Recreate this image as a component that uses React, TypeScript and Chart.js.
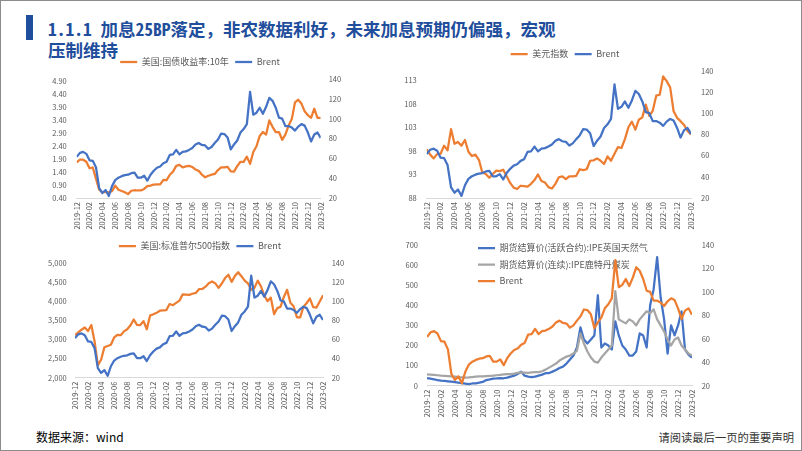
import React, { useEffect, useRef } from 'react';
import { Chart, registerables } from 'chart.js';

Chart.register(...registerables);

const FONT = "'Noto Sans CJK SC', 'Noto Sans', sans-serif";
Chart.defaults.font.family = FONT;
Chart.defaults.color = '#595959';

const ORANGE = '#ED7D31';
const BLUE = '#4472C4';
const GRAY = '#A5A5A5';

// x categories: half-month steps from 2019-12 to 2023-02; tick labels every 2 months
const xTickLabels = ['2019-12', '2020-02', '2020-04', '2020-06', '2020-08', '2020-10', '2020-12', '2021-02', '2021-04', '2021-06', '2021-08', '2021-10', '2021-12', '2022-02', '2022-04', '2022-06', '2022-08', '2022-10', '2022-12', '2023-02'];

const brent = [61.5, 65.5, 66.5, 64.5, 58, 57.5, 51, 30, 25, 28, 22, 32, 38, 40.5, 42, 43, 43.5, 45, 45.5, 40.5, 40.5, 42.5, 37.5, 43.5, 47.5, 50.5, 51.8, 55, 56.5, 63.5, 64, 68.5, 64, 66.5, 67, 68.5, 70.5, 74, 75.5, 73.5, 73, 69.5, 71.5, 75.5, 79, 85, 84.5, 81, 69, 74, 78, 86, 89.5, 94.5, 127, 104, 106, 111, 105, 112, 121, 118, 111, 101, 100, 92.5, 92.5, 91, 88, 92, 94.5, 93, 86, 77, 84, 86, 80.5];
const ust10y = [1.78, 1.88, 1.88, 1.80, 1.55, 1.58, 1.15, 0.72, 0.62, 0.64, 0.62, 0.66, 0.88, 0.72, 0.67, 0.62, 0.55, 0.68, 0.70, 0.69, 0.69, 0.75, 0.86, 0.88, 0.92, 0.93, 0.93, 1.10, 1.09, 1.30, 1.42, 1.64, 1.68, 1.58, 1.62, 1.64, 1.60, 1.50, 1.45, 1.30, 1.20, 1.26, 1.30, 1.33, 1.48, 1.58, 1.58, 1.60, 1.43, 1.42, 1.63, 1.80, 1.80, 2.00, 1.72, 2.18, 2.40, 2.80, 2.95, 2.85, 3.40, 3.15, 2.95, 2.95, 2.65, 2.85, 3.20, 3.45, 4.10, 4.20, 4.05, 3.75, 3.60, 3.50, 3.85, 3.50, 3.50];
const dxy = [98.3, 97.2, 96.4, 97.3, 97.4, 99.1, 98.1, 102.6, 99.5, 99.9, 99.1, 100.3, 97.8, 96.9, 97.2, 96.1, 93.4, 93.1, 92.3, 93.1, 93.8, 93.7, 94.0, 92.6, 91.2, 90.2, 89.9, 90.6, 90.5, 90.4, 91.0, 91.8, 93.0, 91.6, 91.3, 90.3, 90.0, 91.0, 92.4, 92.6, 92.0, 92.6, 92.6, 92.7, 94.1, 93.9, 94.1, 95.9, 96.0, 96.4, 95.9, 95.2, 96.8, 95.9, 97.4, 98.8, 98.6, 100.5, 103.0, 104.2, 102.5, 104.6, 105.1, 107.8, 105.4, 106.5, 109.7, 109.9, 113.8, 112.8, 111.5, 106.4, 105.0, 104.3, 103.5, 102.2, 101.5];
const spx = [3113, 3191, 3258, 3316, 3226, 3380, 2954, 2330, 2470, 2800, 2830, 2863, 3055, 3124, 3115, 3215, 3271, 3373, 3526, 3385, 3380, 3483, 3270, 3627, 3662, 3701, 3756, 3768, 3773, 3932, 3901, 3962, 4020, 4185, 4181, 4173, 4202, 4223, 4320, 4327, 4387, 4479, 4524, 4473, 4357, 4471, 4613, 4700, 4513, 4668, 4766, 4662, 4546, 4475, 4306, 4357, 4545, 4392, 4155, 4008, 4101, 3667, 3825, 3863, 4118, 4305, 3966, 3873, 3585, 3583, 3856, 3958, 4076, 3852, 3839, 3999, 4160];
const ukGas = [38, 35, 32, 28, 25, 24, 22, 20, 18, 15, 13, 10, 8, 11, 12, 15, 19, 28, 31, 35, 36, 38, 37, 40, 45, 50, 58, 70, 50, 45, 43, 45, 50, 55, 62, 63, 70, 78, 88, 95, 110, 130, 150, 190, 290, 230, 210, 230, 250, 450, 190, 210, 200, 180, 320, 250, 200, 180, 150, 150, 170, 260, 250, 190, 400, 480, 640, 440, 330, 160, 300, 250, 300, 370, 180, 155, 140];
const rotterdamCoal = [56, 55, 54, 52, 50, 49, 48, 47, 45, 43, 42, 40, 41, 43, 45, 46, 47, 48, 49, 50, 52, 54, 56, 57, 58, 60, 64, 66, 65, 64, 66, 67, 68, 72, 80, 90, 100, 110, 125, 135, 145, 150, 160, 175, 260, 210, 170, 140, 120, 115, 140, 160, 180, 200, 470, 330, 320, 310, 330, 320, 300, 330, 350, 370, 360, 380, 330, 300, 270, 230, 200, 230, 240, 200, 180, 160, 150];

const yieldTicks = [0.4, 0.9, 1.4, 1.9, 2.4, 2.9, 3.4, 3.9, 4.4, 4.9];
const brentTicks = [20, 40, 60, 80, 100, 120, 140];
const dxyTicks = [88, 93, 98, 103, 108, 113];
const spxTicks = [2000, 2500, 3000, 3500, 4000, 4500, 5000];
const energyTicks = [0, 100, 200, 300, 400, 500, 600, 700];

const LAST = (xTickLabels.length - 1) * 4;
const xTickIdx = xTickLabels.map((_, k) => k * 4);

function lineDs(label: string, values: number[], color: string, yAxisID: string, order: number) {
  return {
    label,
    data: values.map((y, i) => ({ x: i, y })),
    yAxisID,
    order,
    borderColor: color,
    backgroundColor: color,
    borderWidth: 2.25,
    pointRadius: 0,
    pointHoverRadius: 0,
    tension: 0,
    borderJoinStyle: 'round',
    fill: false,
  };
}

function yAxis(position: string, min: number, max: number, ticks: number[], fmt: (v: number) => string, width: number, pad: number) {
  return {
    type: 'linear',
    position,
    min,
    max,
    afterBuildTicks: (s: any) => { s.ticks = ticks.map((v) => ({ value: v })); },
    afterFit: (s: any) => { s.width = width; },
    grid: { display: false, drawTicks: false },
    border: { display: false },
    ticks: { padding: pad, font: { size: 7.5 }, color: '#595959', callback: (v: any) => fmt(Number(v)) },
  };
}

function xAxis(height: number) {
  return {
    type: 'linear',
    min: 0,
    max: LAST,
    afterBuildTicks: (s: any) => { s.ticks = xTickIdx.map((v) => ({ value: v })); },
    afterFit: (s: any) => { s.height = height; },
    grid: { display: false, drawTicks: false },
    border: { display: true, color: '#D9D9D9', width: 1 },
    ticks: {
      minRotation: 90,
      maxRotation: 90,
      autoSkip: false,
      padding: 4,
      font: { size: 7.5 },
      color: '#595959',
      callback: (v: any) => xTickLabels[Math.round(Number(v) / 4)] ?? '',
    },
  };
}

function legendGap(extra: number) {
  return {
    id: 'legendGap',
    beforeInit(chart: any) {
      const lg = chart.legend;
      if (!lg) return;
      const fit = lg.fit;
      lg.fit = function () {
        fit.call(this);
        if (this.options.position === 'top') this.height += extra;
      };
    },
  };
}

function insideLegend(dx: number, dy: number) {
  return {
    id: 'insideLegend',
    afterLayout(chart: any) {
      const lg = chart.legend;
      const ca = chart.chartArea;
      if (!lg || !ca) return;
      lg.left = ca.left + dx;
      lg.top = ca.top + dy;
      lg.right = lg.left + lg.width;
      lg.bottom = lg.top + lg.height;
    },
  };
}

type Spec = {
  box: { left: number; top: number; width: number; height: number };
  padTop: number;
  legendExtra: number;
  legendPad: number;
  inside?: { dx: number; dy: number };
  leftW: number;
  rightW: number;
  xH: number;
  lPad: number;
  rPad: number;
  left: { min: number; max: number; ticks: number[]; fmt: (v: number) => string };
  right: { min: number; max: number; ticks: number[]; fmt: (v: number) => string };
  series: { label: string; values: number[]; color: string; axis: string; order: number }[];
};

const fmtInt = (v: number) => String(v);
const fmtThousands = (v: number) => v.toLocaleString('en-US');
const fmt2 = (v: number) => v.toFixed(2);

const specs: Spec[] = [
  {
    box: { left: 30, top: 50, width: 340, height: 183 },
    padTop: 1, legendExtra: 2.5, legendPad: 6.5,
    leftW: 46.7, rightW: 49.3, xH: 35, lPad: 10, rPad: 8,
    left: { min: 0.4, max: 5.0, ticks: yieldTicks, fmt: fmt2 },
    right: { min: 20, max: 140, ticks: brentTicks, fmt: fmtInt },
    series: [
      { label: '美国:国债收益率:10年', values: ust10y, color: ORANGE, axis: 'yL', order: 1 },
      { label: 'Brent', values: brent, color: BLUE, axis: 'yR', order: 0 },
    ],
  },
  {
    box: { left: 400, top: 42, width: 330, height: 190 },
    padTop: 1, legendExtra: 2.2, legendPad: 6.5,
    leftW: 26.7, rightW: 39, xH: 34, lPad: 10, rPad: 10,
    left: { min: 88, max: 115, ticks: dxyTicks, fmt: fmtInt },
    right: { min: 20, max: 140, ticks: brentTicks, fmt: fmtInt },
    series: [
      { label: '美元指数', values: dxy, color: ORANGE, axis: 'yL', order: 1 },
      { label: 'Brent', values: brent, color: BLUE, axis: 'yR', order: 0 },
    ],
  },
  {
    box: { left: 30, top: 234, width: 340, height: 176 },
    padTop: 1, legendExtra: 2.8, legendPad: 6.5,
    leftW: 45, rightW: 47, xH: 32.3, lPad: 8.3, rPad: 8.7,
    left: { min: 2000, max: 5000, ticks: spxTicks, fmt: fmtThousands },
    right: { min: 20, max: 140, ticks: brentTicks, fmt: fmtInt },
    series: [
      { label: '美国:标准普尔500指数', values: spx, color: ORANGE, axis: 'yL', order: 1 },
      { label: 'Brent', values: brent, color: BLUE, axis: 'yR', order: 0 },
    ],
  },
  {
    box: { left: 400, top: 226, width: 330, height: 192 },
    padTop: 19, legendExtra: 0, legendPad: 7.5,
    inside: { dx: 43.5, dy: -9 },
    leftW: 27, rightW: 38, xH: 32.3, lPad: 9, rPad: 9.7,
    left: { min: 0, max: 700, ticks: energyTicks, fmt: fmtInt },
    right: { min: 20, max: 140, ticks: brentTicks, fmt: fmtInt },
    series: [
      { label: '期货结算价(活跃合约):IPE英国天然气', values: ukGas, color: BLUE, axis: 'yL', order: 2 },
      { label: '期货结算价(连续):IPE鹿特丹煤炭', values: rotterdamCoal, color: GRAY, axis: 'yL', order: 1 },
      { label: 'Brent', values: brent, color: ORANGE, axis: 'yR', order: 0 },
    ],
  },
];

function buildConfig(s: Spec): any {
  const plugins: any[] = [legendGap(s.legendExtra)];
  if (s.inside) plugins.push(insideLegend(s.inside.dx, s.inside.dy));
  return {
    type: 'line',
    data: { datasets: s.series.map((d) => lineDs(d.label, d.values, d.color, d.axis, d.order)) },
    options: {
      responsive: false,
      maintainAspectRatio: false,
      animation: false,
      events: [],
      layout: { padding: { top: s.padTop, left: 0, right: 0, bottom: 0 } },
      plugins: {
        tooltip: { enabled: false },
        legend: {
          position: s.inside ? 'chartArea' : 'top',
          align: s.inside ? 'start' : 'center',
          labels: {
            usePointStyle: true,
            pointStyle: 'line',
            pointStyleWidth: 17,
            boxHeight: 9,
            font: { size: 9, family: FONT },
            color: '#595959',
            padding: s.legendPad,
            sort: (a: any, b: any) => a.datasetIndex - b.datasetIndex,
          },
        },
      },
      scales: {
        x: xAxis(s.xH),
        yL: yAxis('left', s.left.min, s.left.max, s.left.ticks, s.left.fmt, s.leftW, s.lPad),
        yR: yAxis('right', s.right.min, s.right.max, s.right.ticks, s.right.fmt, s.rightW, s.rPad),
      },
    },
    plugins,
  };
}

function ChartBox({ spec }: { spec: Spec }) {
  const ref = useRef<HTMLCanvasElement | null>(null);
  useEffect(() => {
    if (!ref.current) return;
    const chart = new Chart(ref.current, buildConfig(spec));
    return () => chart.destroy();
  }, [spec]);
  const { left, top, width, height } = spec.box;
  return (
    <canvas
      ref={ref}
      width={width}
      height={height}
      style={{ position: 'absolute', left, top, width, height }}
    />
  );
}

export default function App() {
  return (
    <div
      style={{
        position: 'fixed',
        left: 0,
        top: 0,
        width: 802,
        height: 451,
        background: '#ffffff',
        overflow: 'hidden',
        fontFamily: FONT,
      }}
    >
      <div style={{ position: 'absolute', left: 26, top: 15, width: 7, height: 25, background: '#1F4E9C' }} />
      <div
        style={{
          position: 'absolute',
          left: 48,
          top: 18,
          fontSize: 17.5,
          lineHeight: '21px',
          color: '#1F4E9C',
          fontWeight: 700,
          whiteSpace: 'nowrap',
          fontFamily: "'Noto Sans Mono CJK SC', 'Noto Sans CJK SC', sans-serif",
        }}
      >
        1.1.1 加息25BP落定，非农数据利好，未来加息预期仍偏强，宏观
        <br />
        压制维持
      </div>
      {specs.map((s, i) => (
        <ChartBox key={i} spec={s} />
      ))}
      <div style={{ position: 'absolute', left: 36, top: 429, fontSize: 12, lineHeight: '16px', color: '#000' }}>
        数据来源：wind
      </div>
      <div style={{ position: 'absolute', right: 8, top: 430, fontSize: 11.3, lineHeight: '15px', color: '#333' }}>
        请阅读最后一页的重要声明
      </div>
      <div
        style={{
          position: 'absolute',
          left: 0,
          top: 0,
          width: 802,
          height: 451,
          boxSizing: 'border-box',
          border: '1px solid #8C8C8C',
          pointerEvents: 'none',
        }}
      />
    </div>
  );
}
